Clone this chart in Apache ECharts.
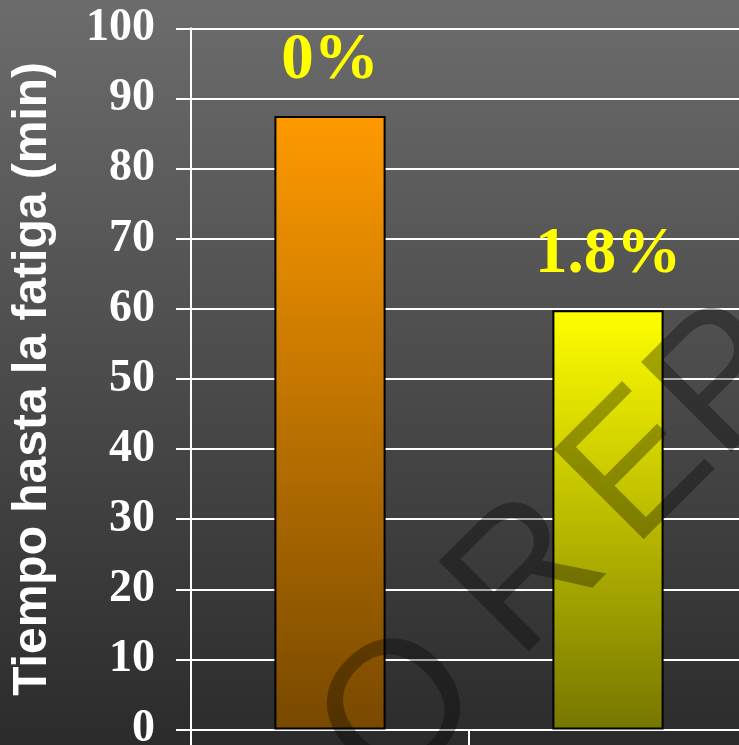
<!DOCTYPE html>
<html>
<head>
<meta charset="utf-8">
<script src="https://cdn.jsdelivr.net/npm/echarts@6/dist/echarts.min.js"></script>
<style>
html,body{margin:0;padding:0;background:#333;}
#c{width:739px;height:745px;}
</style>
</head>
<body>
<div id="c"></div>
<script>
var categories = ['0%', '1.8%'];
var values = [87.5, 59.8];
var barLabels = ['0%', '1.8%'];
var yTicks = [0, 10, 20, 30, 40, 50, 60, 70, 80, 90, 100];
var yTitle = 'Tiempo hasta la fatiga (min)';
var watermarkParts = ['O', 'R', 'EP'];

var topColors = ['#ff9a00', '#ffff00'];
var bottomColors = ['#784900', '#767600'];

var chart = echarts.init(document.getElementById('c'), null, {renderer: 'canvas'});
var data = values.map(function (v, i) {
  return {
    value: v,
    itemStyle: {
      color: new echarts.graphic.LinearGradient(0, 0, 0, 1, [
        {offset: 0, color: topColors[i]},
        {offset: 1, color: bottomColors[i]}
      ]),
      borderColor: '#000',
      borderWidth: 2
    },
    label: {formatter: barLabels[i]}
  };
});

var wmPos = [[352, 765], [482, 626], [597, 514]];
var wmGraphics = watermarkParts.map(function (t, i) {
  return {
    type: 'text',
    x: wmPos[i][0],
    y: wmPos[i][1],
    rotation: Math.PI / 4,
    z: 100,
    silent: true,
    style: {
      text: t,
      font: '185px "Liberation Sans", Arial, sans-serif',
      fill: 'rgba(0,0,0,0.32)',
      align: 'left',
      verticalAlign: 'middle'
    }
  };
});

chart.setOption({
  animation: false,
  backgroundColor: new echarts.graphic.LinearGradient(0, 0, 0, 1, [
    {offset: 0, color: '#6c6c6c'},
    {offset: 1, color: '#2b2b2b'}
  ]),
  grid: {left: 191, right: -8, top: 28.3, bottom: 15.5, containLabel: false, outerBoundsMode: 'none'},
  xAxis: {
    type: 'category',
    data: categories,
    axisLine: {lineStyle: {color: '#fff', width: 2}},
    axisTick: {show: true, length: 30, lineStyle: {color: '#fff', width: 2}},
    axisLabel: {show: false},
    splitLine: {show: false}
  },
  yAxis: {
    type: 'value',
    min: yTicks[0],
    max: yTicks[yTicks.length - 1],
    interval: 10,
    name: yTitle,
    nameLocation: 'middle',
    nameGap: 134,
    nameTextStyle: {color: '#fff', fontFamily: '"Liberation Sans", Arial, sans-serif', fontWeight: 'bold', fontSize: 48},
    axisLine: {show: true, lineStyle: {color: '#fff', width: 2}},
    axisTick: {show: true, length: 15, lineStyle: {color: '#fff', width: 2}},
    axisLabel: {color: '#fff', fontFamily: '"Liberation Serif", "Times New Roman", serif', fontWeight: 'bold', fontSize: 46, margin: 36},
    splitLine: {show: true, lineStyle: {color: '#fff', width: 2}}
  },
  series: [{
    type: 'bar',
    data: data,
    barWidth: '40%',
    z: 3,
    label: {
      show: true,
      position: 'top',
      distance: 22,
      color: '#ffff00',
      fontFamily: '"Liberation Serif", "Times New Roman", serif',
      fontWeight: 'bold',
      fontSize: 65
    }
  }],
  graphic: wmGraphics
});
</script>
</body>
</html>
